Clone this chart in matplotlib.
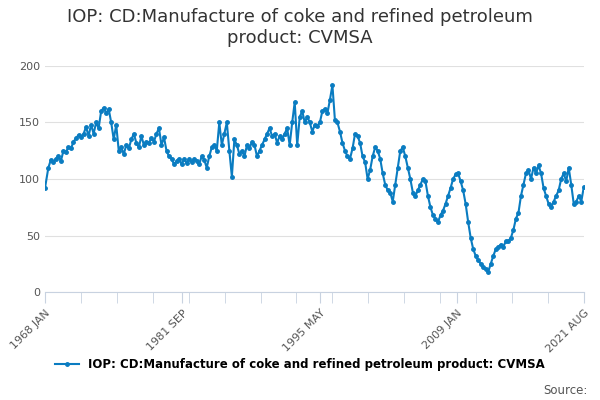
import numpy as np
import matplotlib.pyplot as plt

# quarterly estimates (Q1..Q4), 1968 - 2021
years = list(range(1968, 2022))
values = [
    [92, 110, 117, 115], [118, 120, 116, 125], [124, 128, 127, 133], [136, 139, 137, 140],
    [146, 138, 148, 140], [150, 145, 160, 163], [158, 162, 150, 135], [148, 125, 128, 122],
    [130, 127, 135, 140], [132, 128, 138, 130], [133, 132, 136, 133], [140, 145, 130, 137],
    [125, 120, 118, 113], [116, 118, 113, 118], [114, 118, 115, 118], [116, 113, 120, 117],
    [110, 120, 128, 130], [125, 150, 130, 140], [150, 125, 102, 135], [130, 122, 125, 120],
    [130, 127, 133, 130], [120, 125, 130, 135], [140, 145, 138, 140], [132, 138, 135, 140],
    [145, 130, 150, 168], [130, 155, 160, 150], [155, 150, 142, 148], [147, 150, 160, 162],
    [158, 170, 183, 152], [150, 142, 132, 125], [120, 118, 127, 140], [138, 132, 120, 115],
    [100, 108, 120, 128], [125, 118, 105, 95], [90, 88, 80, 95], [110, 125, 128, 120],
    [110, 100, 88, 85], [90, 95, 100, 98], [85, 75, 68, 65], [62, 68, 72, 78],
    [85, 92, 100, 104], [105, 98, 90, 78], [62, 48, 38, 32], [28, 25, 22, 20],
    [18, 25, 32, 38], [40, 42, 40, 45], [45, 48, 55, 65], [70, 85, 95, 105],
    [108, 100, 110, 105], [112, 105, 92, 85], [78, 75, 80, 85], [90, 100, 105, 98],
    [110, 95, 78, 80], [85, 80, 93],
]
tick_labels = ["1968 JAN", "1981 SEP", "1995 MAY", "2009 JAN", "2021 AUG"]
tick_pos = [1968 + 0/12, 1981 + 8/12, 1995 + 4/12, 2009 + 0/12, 2021 + 7/12]

x, y = [1968.0], [92]
for yr, qs in zip(years, values):
    for i, v in enumerate(qs):
        if yr == 1968 and i == 0:
            continue
        m = [1, 4, 7, 10][i] if len(qs) == 4 else [1, 4, 7][i]
        x.append(yr + m / 12)
        y.append(v)

blue = "#0a7cc1"
fig = plt.figure(figsize=(6, 4), dpi=100)
ax = fig.add_axes([0.075, 0.27, 0.898, 0.565])
ax.plot(x, y, color=blue, lw=1.5, marker="o", ms=2.5, label="IOP: CD:Manufacture of coke and refined petroleum product: CVMSA")
ax.set_xlim(1968, 2021 + 7/12)
ax.set_ylim(0, 200)
ax.set_yticks([0, 50, 100, 150, 200])
ax.grid(axis="y", color="#e0e0e0", lw=0.8)
for s in ["top", "right", "left"]:
    ax.spines[s].set_visible(False)
ax.spines["bottom"].set_color("#c8d2e0")
ax.set_xticks(tick_pos)
ax.set_xticklabels(tick_labels, rotation=45, ha="right", rotation_mode="anchor")
ax.set_xticks(np.linspace(1968, 2021 + 7/12, 16)[1:-1], minor=True)
ax.tick_params(axis="x", which="both", length=8, color="#c8d2e0", labelsize=8, labelcolor="#555555")
ax.tick_params(axis="y", length=0, labelsize=8, labelcolor="#555555")
fig.suptitle("IOP: CD:Manufacture of coke and refined petroleum\nproduct: CVMSA", y=0.98, fontsize=13, color="#333333")
fig.legend(loc="lower center", bbox_to_anchor=(0.5, 0.045), frameon=False, fontsize=8.5,
           prop={"weight": "bold", "size": 8.5})
fig.text(0.98, 0.015, "Source:", ha="right", fontsize=8.5, color="#555555")
fig.savefig("out.png")
